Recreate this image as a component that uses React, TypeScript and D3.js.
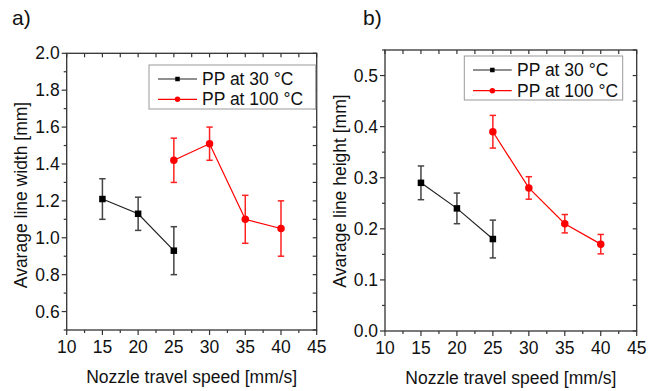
import React from 'react';
import * as d3 from 'd3';

// ---------- data ----------
const speedsPP30 = [15, 20, 25];
const speedsPP100 = [25, 30, 35, 40];
const widthPP30 = [1.21, 1.13, 0.93];
const widthErrPP30 = [0.11, 0.09, 0.13];
const widthPP100 = [1.42, 1.51, 1.1, 1.05];
const widthErrPP100 = [0.12, 0.09, 0.13, 0.15];
const heightPP30 = [0.29, 0.24, 0.18];
const heightErrPP30 = [0.033, 0.03, 0.037];
const heightPP100 = [0.39, 0.28, 0.21, 0.17];
const heightErrPP100 = [0.032, 0.022, 0.018, 0.019];
const xTicks = [10, 15, 20, 25, 30, 35, 40, 45];
const widthTicks = [0.6, 0.8, 1.0, 1.2, 1.4, 1.6, 1.8, 2.0];
const heightTicks = [0, 0.1, 0.2, 0.3, 0.4, 0.5];
const seriesNames = ['PP at 30 °C', 'PP at 100 °C'];
const xTitle = 'Nozzle travel speed [mm/s]';

const FONT = '"Liberation Sans", Arial, Helvetica, sans-serif';
const FS = 17.5;

type Series = { xs: number[]; ys: number[]; errs: number[]; color: string; errColor: string; shape: 'square' | 'circle' };

type PanelProps = {
  tag: string; tagX: number;
  left: number; right: number; top: number; bottom: number;
  yDomain: [number, number]; yTicks: number[]; yMinorStep: number;
  yTitle: string; yTitleX: number; yTitleY: number;
  series: Series[];
  legend: { x0: number; x1: number; y0: number; y1: number; rows: number[]; lx0: number; lx1: number; tx: number };
};

function Marker({ shape, x, y, size, color }: { shape: string; x: number; y: number; size: number; color: string }) {
  if (shape === 'square') return <rect x={x - size / 2} y={y - size / 2} width={size} height={size} fill={color} />;
  return <circle cx={x} cy={y} r={size / 2} fill={color} />;
}

function Panel(p: PanelProps) {
  const x = d3.scaleLinear().domain([10, 45]).range([p.left, p.right]);
  const y = d3.scaleLinear().domain(p.yDomain).range([p.bottom, p.top]);
  const xMinor = d3.range(10, 45.001, 2.5);
  const yMinor = d3.range(p.yDomain[0], p.yDomain[1] + 1e-6, p.yMinorStep);
  const fmt = d3.format('.1f');
  const frame = '#333';
  return (
    <g>
      <text x={p.tagX} y={25} fontSize={21} fontFamily={FONT} fill="#111">{p.tag}</text>
      {xMinor.map((v, i) => {
        const major = Math.abs((v - 10) % 5) < 1e-6;
        return (
          <g key={'xb' + i}>
            <line x1={x(v)} x2={x(v)} y1={p.bottom} y2={p.bottom + (major ? 5 : 3)} stroke={frame} strokeWidth={1.2} />
            <line x1={x(v)} x2={x(v)} y1={p.top} y2={p.top + 4} stroke={frame} strokeWidth={1.2} />
          </g>
        );
      })}
      {yMinor.map((v, i) => {
        const major = p.yTicks.some(t => Math.abs(t - v) < 1e-6);
        return (
          <g key={'yl' + i}>
            <line x1={p.left} x2={p.left - (major ? 5 : 3)} y1={y(v)} y2={y(v)} stroke={frame} strokeWidth={1.2} />
            <line x1={p.right} x2={p.right - 4} y1={y(v)} y2={y(v)} stroke={frame} strokeWidth={1.2} />
          </g>
        );
      })}
      <rect x={p.left} y={p.top} width={p.right - p.left} height={p.bottom - p.top} fill="none" stroke={frame} strokeWidth={1.3} />
      {xTicks.map(t => (
        <text key={'xt' + t} x={x(t)} y={p.bottom + 23} textAnchor="middle" fontSize={FS} fontFamily={FONT} fill="#111">{t}</text>
      ))}
      {p.yTicks.map(t => (
        <text key={'yt' + t} x={p.left - 7} y={y(t) + 6} textAnchor="end" fontSize={FS} fontFamily={FONT} fill="#111">{fmt(t)}</text>
      ))}
      <text x={(p.left + p.right) / 2} y={p.bottom + 53} textAnchor="middle" fontSize={FS} fontFamily={FONT} fill="#111">{xTitle}</text>
      <text transform={`translate(${p.yTitleX},${p.yTitleY}) rotate(-90)`} textAnchor="middle" fontSize={FS} fontFamily={FONT} fill="#111">{p.yTitle}</text>
      {p.series.map((s, si) => {
        const line = d3.line<number>().x((_, i) => x(s.xs[i])).y(d => y(d));
        return (
          <g key={'s' + si}>
            <path d={line(s.ys) || ''} fill="none" stroke={s.color === '#000' ? '#222' : s.color} strokeWidth={1.2} />
            {s.ys.map((v, i) => {
              const cx = x(s.xs[i]);
              const yt = y(v + s.errs[i]);
              const yb = y(v - s.errs[i]);
              return (
                <g key={'e' + i} stroke={s.errColor} strokeWidth={1.5}>
                  <line x1={cx} x2={cx} y1={yt} y2={yb} />
                  <line x1={cx - 3.2} x2={cx + 3.2} y1={yt} y2={yt} />
                  <line x1={cx - 3.2} x2={cx + 3.2} y1={yb} y2={yb} />
                </g>
              );
            })}
            {s.ys.map((v, i) => (
              <Marker key={'m' + i} shape={s.shape} x={x(s.xs[i])} y={y(v)} size={s.shape === 'square' ? 6.5 : 7.5} color={s.color} />
            ))}
          </g>
        );
      })}
      <rect x={p.legend.x0} y={p.legend.y0} width={p.legend.x1 - p.legend.x0} height={p.legend.y1 - p.legend.y0} fill="#fff" stroke="#999" strokeWidth={1} />
      {p.series.map((s, si) => {
        const ry = p.legend.rows[si];
        return (
          <g key={'lg' + si}>
            <line x1={p.legend.lx0} x2={p.legend.lx1} y1={ry} y2={ry} stroke={s.color === '#000' ? '#222' : s.color} strokeWidth={1.2} />
            <Marker shape={s.shape} x={(p.legend.lx0 + p.legend.lx1) / 2} y={ry} size={s.shape === 'square' ? 4.5 : 5.5} color={s.color} />
            <text x={p.legend.tx} y={ry + 6} fontSize={FS} fontFamily={FONT} fill="#111">{seriesNames[si]}</text>
          </g>
        );
      })}
    </g>
  );
}

export default function App() {
  const seriesA: Series[] = [
    { xs: speedsPP30, ys: widthPP30, errs: widthErrPP30, color: '#000', errColor: '#444', shape: 'square' },
    { xs: speedsPP100, ys: widthPP100, errs: widthErrPP100, color: '#ff0000', errColor: '#f22', shape: 'circle' },
  ];
  const seriesB: Series[] = [
    { xs: speedsPP30, ys: heightPP30, errs: heightErrPP30, color: '#000', errColor: '#444', shape: 'square' },
    { xs: speedsPP100, ys: heightPP100, errs: heightErrPP100, color: '#ff0000', errColor: '#f22', shape: 'circle' },
  ];
  return (
    <svg width={660} height={391} style={{ position: 'absolute', left: 0, top: 0, background: '#fff' }}>
      <Panel tag="a)" tagX={12} left={66.7} right={316.7} top={53.3} bottom={330}
        yDomain={[0.5, 2.0]} yTicks={widthTicks} yMinorStep={0.1}
        yTitle="Avarage line width [mm]" yTitleX={27} yTitleY={195}
        series={seriesA}
        legend={{ x0: 149, x1: 315.7, y0: 65, y1: 109, rows: [79, 99.3], lx0: 158, lx1: 197, tx: 202 }} />
      <Panel tag="b)" tagX={363} left={385} right={636.7} top={50} bottom={331}
        yDomain={[0, 0.55]} yTicks={heightTicks} yMinorStep={0.05}
        yTitle="Avarage line height [mm]" yTitleX={346} yTitleY={191}
        series={seriesB}
        legend={{ x0: 464.3, x1: 622.7, y0: 56, y1: 100, rows: [70, 90.7], lx0: 473, lx1: 511.7, tx: 517 }} />
    </svg>
  );
}
